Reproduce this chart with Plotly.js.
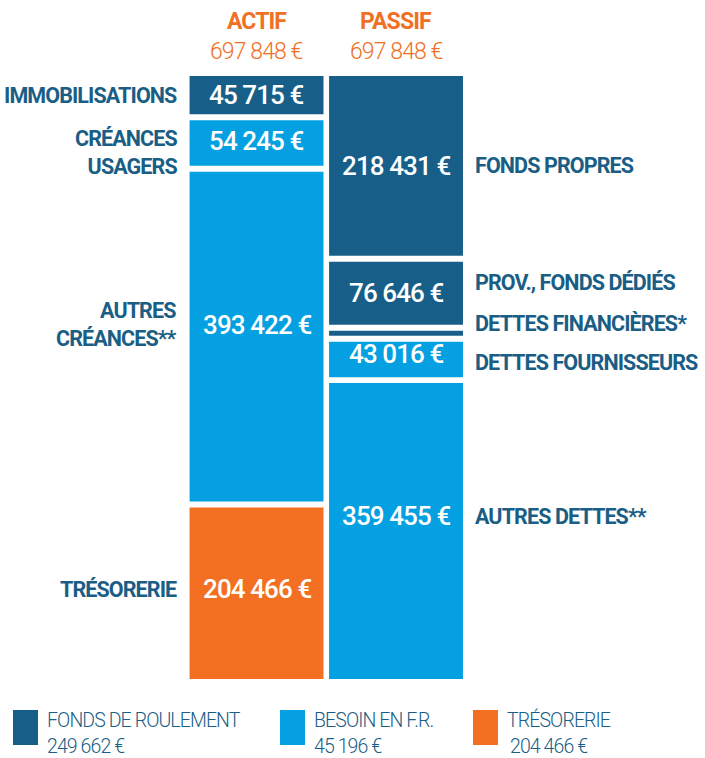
<!DOCTYPE html>
<html><head><meta charset="utf-8">
<script src="https://cdn.plot.ly/plotly-3.0.1.min.js"></script>
<style>
html,body{margin:0;padding:0;background:#fff}
#chart{width:705px;height:758px}
svg text{letter-spacing:-0.9px}
</style>
</head><body><div id="chart"></div>
<script>
// ---------- DATA ----------
const columns = ['ACTIF', 'PASSIF'];
const actifLabels = ['IMMOBILISATIONS', 'CRÉANCES<br>USAGERS', 'AUTRES<br>CRÉANCES**', 'TRÉSORERIE'];
const actifValues = [45715, 54245, 393422, 204466];
const actifGroups = ['fr', 'bfr', 'bfr', 'treso'];
const passifLabels = ['FONDS PROPRES', 'PROV., FONDS DÉDIÉS', 'DETTES FINANCIÈRES*', 'DETTES FOURNISSEURS', 'AUTRES DETTES**'];
const passifValues = [218431, 76646, 300, 43016, 359455];
const passifGroups = ['fr', 'fr', 'fr', 'bfr', 'bfr'];
const legendKeys = ['fr', 'bfr', 'treso'];
const legendNames = ['FONDS DE ROULEMENT', 'BESOIN EN F.R.', 'TRÉSORERIE'];

// ---------- STYLE ----------
const FONT = "Roboto, 'Noto Sans', sans-serif";
const colors = {fr: '#175f89', bfr: '#04a0e2', treso: '#f37023'};
const TEXT_BLUE = '#1a5e86';
const ORANGE = '#f07024';
const GAP = 7100;        // white gap between stacked blocks (euros-equivalent)
const MIN_BLOCK = 6000;  // minimum drawn thickness for very small blocks
const BAR_W = 0.96;
// pixel nudges for labels (positive = up)
const actifValueShift = [0, 2, 12, 4];
const actifSideShift = [0, -9, 12, 4];
const passifValueShift = [0, 0, 0, 5, 15];
const passifSideShift = [0, 11, 10, -3, 15];

const fmt = v => String(v).replace(/\B(?=(\d{3})+(?!\d))/g, ' ') + ' €';
const sum = a => a.reduce((s, v) => s + v, 0);

const SPAN = sum(actifValues) + (actifValues.length - 1) * GAP;

function layoutColumn(values) {
  const disp = values.map(v => Math.max(v, MIN_BLOCK));
  const avail = SPAN - (values.length - 1) * GAP;
  const k = avail / sum(disp);
  let pos = 0;
  return disp.map(d => {
    const h = d * k;
    const seg = {base: pos, h: h, mid: pos + h / 2};
    pos += h + GAP;
    return seg;
  });
}

const traces = [];
const annotations = [];
const shapes = [];

function addColumn(col, labels, values, groups, valueShift, sideShift, side) {
  const segs = layoutColumn(values);
  const ci = columns.indexOf(col);
  segs.forEach((s, i) => {
    traces.push({
      type: 'bar', x: [col], y: [s.h], base: [s.base], width: [BAR_W],
      marker: {color: colors[groups[i]], line: {width: 0}},
      hoverinfo: 'skip', showlegend: false
    });
    if (values[i] >= 10000) {
      annotations.push({
        x: col, y: s.mid, xref: 'x', yref: 'y', yshift: valueShift[i],
        text: fmt(values[i]), showarrow: false,
        font: {family: FONT, size: 26, color: '#ffffff', weight: 500},
        xanchor: 'center', yanchor: 'middle'
      });
    }
    annotations.push({
      x: side === 'left' ? ci - BAR_W / 2 : ci + BAR_W / 2,
      xshift: side === 'left' ? -11 : 10,
      y: s.mid, xref: 'x', yref: 'y', yshift: sideShift[i],
      text: labels[i], showarrow: false,
      align: side === 'left' ? 'right' : 'left',
      xanchor: side === 'left' ? 'right' : 'left', yanchor: 'middle',
      font: {family: FONT, size: 21.5, color: TEXT_BLUE, weight: 'bold'}
    });
  });
  // column header
  annotations.push({
    x: col, xref: 'x', y: 1 - 22 / 758, yref: 'paper', text: col,
    showarrow: false, yanchor: 'middle', font: {family: FONT, size: 23, color: ORANGE, weight: 'bold'}
  });
  annotations.push({
    x: col, xref: 'x', y: 1 - 51 / 758, yref: 'paper', text: fmt(sum(values)),
    showarrow: false, yanchor: 'middle', font: {family: FONT, size: 23, color: ORANGE, weight: 300}
  });
}

addColumn('ACTIF', actifLabels, actifValues, actifGroups, actifValueShift, actifSideShift, 'left');
addColumn('PASSIF', passifLabels, passifValues, passifGroups, passifValueShift, passifSideShift, 'right');

// ---------- derived legend values ----------
const grp = (vals, groups, g) => sum(vals.filter((v, i) => groups[i] === g));
const legendValues = {
  fr: grp(passifValues, passifGroups, 'fr') - grp(actifValues, actifGroups, 'fr'),
  bfr: grp(actifValues, actifGroups, 'bfr') - grp(passifValues, passifGroups, 'bfr'),
  treso: grp(actifValues, actifGroups, 'treso')
};

const legendX = [13, 280, 473];   // px
const W = 705, H = 758;
legendKeys.forEach((k, i) => {
  const x0 = legendX[i];
  shapes.push({
    type: 'rect', xref: 'paper', yref: 'paper',
    x0: x0 / W, x1: (x0 + 25) / W, y0: 1 - 745 / H, y1: 1 - 710 / H,
    fillcolor: colors[k], line: {width: 0}
  });
  annotations.push({
    x: (x0 + 32) / W, xref: 'paper', y: 1 - 720 / H, yref: 'paper',
    text: legendNames[i], showarrow: false, xanchor: 'left', yanchor: 'middle',
    font: {family: FONT, size: 19.5, color: TEXT_BLUE, weight: 300}
  });
  annotations.push({
    x: (x0 + 32 + (k === 'treso' ? 3 : 0)) / W, xref: 'paper', y: 1 - 746 / H, yref: 'paper',
    text: fmt(legendValues[k]), showarrow: false, xanchor: 'left', yanchor: 'middle',
    font: {family: FONT, size: 19.5, color: TEXT_BLUE, weight: 300}
  });
});

const layout = {
  width: W, height: H,
  margin: {l: 0, r: 0, t: 0, b: 0},
  paper_bgcolor: '#ffffff', plot_bgcolor: '#ffffff',
  barmode: 'overlay',
  showlegend: false,
  xaxis: {type: 'category', categoryorder: 'array', categoryarray: columns,
          range: [-1.839, 3.215], visible: false, fixedrange: true},
  yaxis: {range: [SPAN, 0], domain: [1 - 679 / H, 1 - 76 / H], visible: false, fixedrange: true},
  annotations: annotations,
  shapes: shapes
};

Plotly.newPlot('chart', traces, layout, {displayModeBar: false, staticPlot: true});
</script>
</body></html>
